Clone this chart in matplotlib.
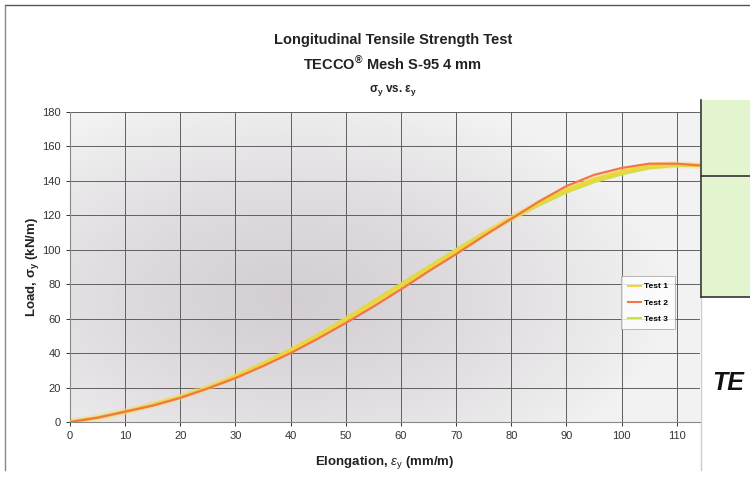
import numpy as np
import matplotlib
matplotlib.use('Agg')
import matplotlib.pyplot as plt
from matplotlib.patches import Rectangle
from matplotlib.lines import Line2D

plt.rcParams['font.family'] = ['Liberation Sans', 'DejaVu Sans']
plt.rcParams['mathtext.fontset'] = 'custom'
plt.rcParams['mathtext.rm'] = 'Liberation Sans'
plt.rcParams['mathtext.it'] = 'Liberation Sans:italic'
plt.rcParams['mathtext.bf'] = 'Liberation Sans:bold'

# elongation (mm/m) and load (kN/m)
elong = [0, 5, 10, 15, 20, 25, 30, 35, 40, 45, 50, 55, 60, 65, 70, 75, 80,
         85, 90, 95, 100, 105, 110, 114]
test1 = [0, 2.5, 6, 10, 14.5, 20, 26.5, 33.5, 41.5, 50, 59.5, 69, 79, 89, 99,
         109, 118.5, 127, 135, 141, 145.5, 148.5, 149.5, 149]
test2 = [0, 2.5, 6, 9.5, 14, 19.5, 25.5, 32.5, 40, 48.5, 57.5, 67, 77, 87.5,
         97.5, 108, 118, 128, 137, 143.5, 147.5, 150, 150, 149]
test3 = [0, 2.5, 6, 10, 14.5, 20, 26.5, 34, 42, 50.5, 60, 70, 80, 90, 100,
         109.5, 118, 126, 133.5, 139.5, 144, 147.5, 149, 149]
series_names = ['Test 1', 'Test 2', 'Test 3']
xticks = list(range(0, 111, 10))
yticks = list(range(0, 181, 20))

fig = plt.figure(figsize=(7.5, 4.8), dpi=100)
fig.patch.set_facecolor('white')

# plot box (pixels: left 70, right 700, top 112, bottom 422)
ax = fig.add_axes([70/750, 58/480, 630/750, 310/480])

# shaded background, a bit darker toward the middle-left
ny, nx = 200, 300
yy, xx = np.mgrid[0:1:ny*1j, 0:1:nx*1j]
r = np.sqrt(((xx - 0.35) / 0.8)**2 + ((yy - 0.4) / 0.9)**2)
t = np.clip(r / 0.75, 0, 1)**1.3
dark = np.array([0.83, 0.81, 0.83])
light = np.array([0.95, 0.95, 0.95])
img = dark[None, None, :] * (1 - t[..., None]) + light[None, None, :] * t[..., None]
ax.imshow(img, extent=(0, 1, 0, 1), transform=ax.transAxes, aspect='auto',
          origin='lower', zorder=0)

colors = ['#f2d43c', '#ef7845', '#cfe048']
# soft glow under the curves, like the scan
ax.plot(elong, test1, color='#f5d878', lw=5, alpha=0.45, zorder=2,
        solid_capstyle='round')
ax.plot(elong, test3, color=colors[2], lw=2.2, zorder=3)
ax.plot(elong, test1, color=colors[0], lw=2.2, zorder=4)
ax.plot(elong, test2, color=colors[1], lw=1.6, zorder=5)

ax.set_xlim(0, 114.2)
ax.set_ylim(0, 180)
ax.set_xticks(xticks)
ax.set_yticks(yticks)
ax.grid(True, color='#606060', lw=0.7)
for gl in ax.get_xgridlines() + ax.get_ygridlines():
    gl.set_zorder(1)
ax.tick_params(labelsize=8, colors='#333333', length=3, width=0.7)
for s in ['top', 'right']:
    ax.spines[s].set_visible(False)
ax.spines['left'].set_color('#888888')
ax.spines['bottom'].set_color('#888888')

ax.set_xlabel(r'Elongation, $\varepsilon_\mathrm{y}$ (mm/m)', fontsize=9.5,
              fontweight='bold', color='#222222', labelpad=9)
ax.set_ylabel(r'Load, $\mathbf{\sigma_y}$ (kN/m)', fontsize=9.5,
              fontweight='bold', color='#222222', labelpad=1)

handles = [Line2D([0], [0], color=c, lw=1.5) for c in colors]
leg = ax.legend(handles, series_names, loc='lower left',
                bbox_to_anchor=(0.868, 0.285), fontsize=6, frameon=True,
                fancybox=False, handlelength=1.6, handletextpad=0.4,
                labelspacing=1.0, borderpad=0.8)
leg.get_frame().set_edgecolor('#999999')
leg.get_frame().set_linewidth(0.6)
for txt in leg.get_texts():
    txt.set_fontweight('bold')
leg.set_zorder(6)

fig.text(393/750, 1 - 40/480, 'Longitudinal Tensile Strength Test',
         ha='center', va='center', fontsize=10.5, fontweight='bold', color='#222222')
fig.text(393/750, 1 - 64/480, r'TECCO$^{\mathbf{®}}$ Mesh S-95 4 mm',
         ha='center', va='center', fontsize=10.5, fontweight='bold', color='#222222')
fig.text(393/750, 1 - 91/480, r'σ$_\mathbf{y}$ vs. ε$_\mathbf{y}$',
         ha='center', va='center', fontsize=8.5, fontweight='bold', color='#222222')

# scan frame around the chart
fig.add_artist(Line2D([5/750, 1], [1 - 5/480, 1 - 5/480], color='#555555', lw=1.0))
fig.add_artist(Line2D([5/750, 5/750], [1 - 5/480, 10/480], color='#888888', lw=1.0))

# neighbouring page content on the right edge
fig.add_artist(Rectangle((702/750, 1 - 297/480), 60/750, 197/480,
                         facecolor='#e2f5cf', edgecolor='none', zorder=10))
fig.add_artist(Line2D([701/750, 701/750], [1 - 100/480, 1 - 297/480],
                      color='#333333', lw=1.2, zorder=11))
fig.add_artist(Line2D([701/750, 701/750], [1 - 297/480, 10/480],
                      color='#cccccc', lw=1.0, zorder=11))
fig.add_artist(Line2D([701/750, 1], [1 - 176/480, 1 - 176/480],
                      color='#333333', lw=1.2, zorder=11))
fig.add_artist(Line2D([701/750, 1], [1 - 297/480, 1 - 297/480],
                      color='#333333', lw=1.2, zorder=11))
fig.text(712/750, 1 - 383/480, 'TE', fontsize=18, fontweight='bold',
         fontstyle='italic', color='#111111', va='center', ha='left')

fig.savefig('out.png', dpi=100)
